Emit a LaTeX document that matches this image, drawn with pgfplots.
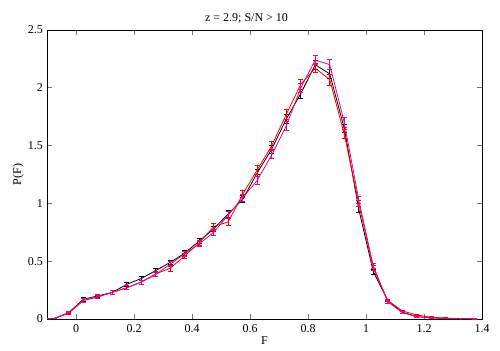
\documentclass[border=0pt]{standalone}
\usepackage{pgfplots}
\pgfplotsset{compat=1.18}
\usepackage{fontspec}
\setmainfont{Liberation Serif}

\pgfplotstableread{
x y e
-0.125 0.000 0.000
-0.075 0.005 0.003
-0.025 0.055 0.010
0.025 0.170 0.015
0.075 0.200 0.015
0.125 0.230 0.015
0.175 0.300 0.018
0.225 0.350 0.018
0.275 0.420 0.020
0.325 0.490 0.020
0.375 0.570 0.022
0.425 0.675 0.022
0.475 0.780 0.025
0.525 0.910 0.028
0.575 1.035 0.030
0.625 1.265 0.032
0.675 1.470 0.035
0.725 1.730 0.038
0.775 1.950 0.040
0.825 2.200 0.040
0.875 2.120 0.040
0.925 1.650 0.035
0.975 0.950 0.028
1.025 0.410 0.020
1.075 0.160 0.012
1.125 0.060 0.008
1.175 0.020 0.005
1.225 0.010 0.004
1.275 0.005 0.003
1.325 0.003 0.002
1.375 0.002 0.002
}\blackdata

\pgfplotstableread{
x y e
-0.125 0.000 0.000
-0.075 0.005 0.003
-0.025 0.050 0.010
0.025 0.160 0.015
0.075 0.190 0.015
0.125 0.230 0.015
0.175 0.270 0.018
0.225 0.320 0.018
0.275 0.390 0.020
0.325 0.440 0.025
0.375 0.545 0.022
0.425 0.660 0.022
0.475 0.800 0.030
0.525 0.840 0.030
0.575 1.080 0.030
0.625 1.290 0.035
0.675 1.500 0.035
0.725 1.770 0.040
0.775 2.030 0.040
0.825 2.170 0.040
0.875 2.070 0.045
0.925 1.600 0.040
0.975 1.000 0.030
1.025 0.440 0.020
1.075 0.160 0.012
1.125 0.070 0.008
1.175 0.035 0.006
1.225 0.015 0.004
1.275 0.008 0.003
1.325 0.005 0.002
1.375 0.003 0.002
}\reddata

\pgfplotstableread{
x y e
-0.125 0.000 0.000
-0.075 0.005 0.003
-0.025 0.055 0.010
0.025 0.160 0.015
0.075 0.195 0.015
0.125 0.230 0.015
0.175 0.270 0.018
0.225 0.320 0.018
0.275 0.385 0.020
0.325 0.475 0.020
0.375 0.565 0.022
0.425 0.650 0.022
0.475 0.750 0.025
0.525 0.900 0.028
0.575 1.050 0.030
0.625 1.200 0.035
0.675 1.420 0.035
0.725 1.670 0.038
0.775 2.000 0.040
0.825 2.240 0.040
0.875 2.200 0.045
0.925 1.700 0.040
0.975 1.030 0.030
1.025 0.460 0.022
1.075 0.150 0.012
1.125 0.055 0.008
1.175 0.020 0.005
1.225 0.010 0.004
1.275 0.005 0.003
1.325 0.003 0.002
1.375 0.002 0.002
}\magdata

\begin{document}
\fontsize{12bp}{14bp}\selectfont
\begin{tikzpicture}[x=1bp,y=1bp]
\path (-47,-31) rectangle (453,319);
\begin{axis}[
  at={(0,0)}, anchor=south west,
  scale only axis, width=435bp, height=289bp,
  xmin=-0.1, xmax=1.4, ymin=0, ymax=2.5,
  xtick={0,0.2,...,1.4}, ytick={0,0.5,...,2.5},
  tick align=inside, major tick length=5bp,
  tick style={black!55, line width=0.8pt},
  axis line style={black, line width=0.8pt},
  /pgf/number format/assume math mode=true,
  xticklabel style={yshift=-1bp},
  title={z = 2.9; S/N > 10},
  title style={yshift=-4bp, xshift=-18bp},
  xlabel={F}, ylabel={P(F)},
  xlabel style={yshift=4bp},
  ylabel style={yshift=-4bp},
  clip=true,
  error bars/error bar style={line width=0.8pt},
  error bars/error mark options={rotate=90, mark size=2.5bp, line width=0.8pt},
]
\addplot[black, line width=0.8pt, mark=none, error bars/.cd, y dir=both, y explicit] table[x=x, y=y, y error=e] {\blackdata};
\addplot[red, line width=0.8pt, mark=none, error bars/.cd, y dir=both, y explicit] table[x=x, y=y, y error=e] {\reddata};
\addplot[magenta, line width=0.8pt, mark=none, error bars/.cd, y dir=both, y explicit] table[x=x, y=y, y error=e] {\magdata};
\end{axis}
\end{tikzpicture}
\end{document}
